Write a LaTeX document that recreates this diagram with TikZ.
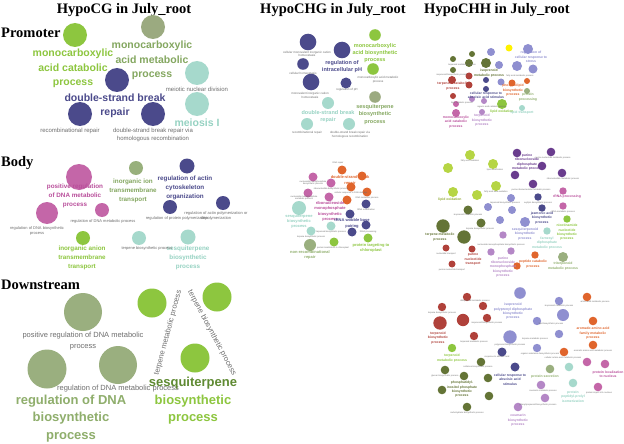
\documentclass[tikz,border=0pt]{standalone}
\usepackage{fontspec}
\setmainfont{Liberation Sans}
\newfontfamily\titlefont{Liberation Serif}
\pgfdeclarelayer{bg}
\pgfsetlayers{bg,main}
\definecolor{cgreen}{HTML}{8DC63F}
\definecolor{colive}{HTML}{9BAA80}
\definecolor{tolive}{HTML}{84A760}
\definecolor{navy}{HTML}{4B4A8B}
\definecolor{mint}{HTML}{A6D9CC}
\definecolor{tmint}{HTML}{96D2C2}
\definecolor{magenta}{HTML}{C466A8}
\definecolor{tmagenta}{HTML}{B94E9B}
\definecolor{bolive}{HTML}{98B07C}
\definecolor{sage}{HTML}{9AAF7F}
\definecolor{tsage}{HTML}{8FAE6C}
\definecolor{dgreen}{HTML}{5F8A32}
\definecolor{lime}{HTML}{B6D544}
\definecolor{purple}{HTML}{6A3D8E}
\definecolor{lav}{HTML}{8F8FD0}
\definecolor{dolive}{HTML}{647436}
\definecolor{dred}{HTML}{B0413A}
\definecolor{orange}{HTML}{E0652C}
\definecolor{lilac}{HTML}{B487C6}
\definecolor{yel}{HTML}{FFF200}
\definecolor{tgray}{HTML}{6E6E6E}
\tikzset{
  cnode/.style={circle,inner sep=0pt,draw=none},
  ttl/.style={font=\titlefont\bfseries\fontsize{14.5}{16}\selectfont,inner sep=0pt},
  lA/.style={align=center,inner sep=0pt,font=\bfseries\fontsize{10.5}{14.5}\selectfont},
  lB/.style={align=center,inner sep=0pt,font=\bfseries\fontsize{6.3}{8.7}\selectfont},
  lC/.style={align=center,inner sep=0pt,font=\bfseries\fontsize{13}{17.5}\selectfont},
  lD/.style={align=center,inner sep=0pt,font=\bfseries\fontsize{5.5}{7.3}\selectfont},
  lE/.style={align=center,inner sep=0pt,font=\bfseries\fontsize{4}{5.1}\selectfont},
  lF/.style={align=center,inner sep=0pt,font=\bfseries\fontsize{3.4}{4.4}\selectfont},
  gA/.style={align=center,inner sep=0pt,text=tgray,font=\fontsize{6}{8}\selectfont},
  gB/.style={align=center,inner sep=0pt,text=tgray,font=\fontsize{4}{5}\selectfont},
  gC/.style={align=center,inner sep=0pt,text=tgray,font=\fontsize{7.5}{11}\selectfont},
  gD/.style={align=center,inner sep=0pt,text=tgray,font=\fontsize{3}{3.6}\selectfont},
  gE/.style={align=center,inner sep=0pt,text=tgray,font=\fontsize{2.2}{2.7}\selectfont},
  eA/.style={draw=gray!75,line width=1.4pt},
  eB/.style={draw=gray!70,line width=0.9pt},
  eC/.style={draw=gray!65,line width=0.5pt},
  eT/.style={draw=gray!60,line width=0.3pt},
}
\newcommand\cn[5]{\node[cnode,fill=#5,minimum size={2*#4pt}] (#1) at (#2,#3) {};}
\begin{document}
\begin{tikzpicture}[x=1pt,y=-1pt]
\useasboundingbox[fill=white] (0,0) rectangle (624,444);
% titles and row labels
\node[ttl] (t1) at (124,10) {HypoCG in July\_root};
\node[ttl] (t2) at (333,10) {HypoCHG in July\_root};
\node[ttl] (t3) at (497,10) {HypoCHH in July\_root};
\node[ttl,anchor=west] (r1) at (1,33) {Promoter};
\node[ttl,anchor=west] (r2) at (1,163) {Body};
\node[ttl,anchor=west] (r3) at (1,285) {Downstream};

% ===== CG promoter
\cn{pg1}{75}{35}{12}{cgreen}
\cn{pg2}{153}{27}{12}{colive}
\cn{pn1}{117}{80}{12}{navy}
\cn{pn2}{80}{114}{12}{navy}
\cn{pn3}{153}{114}{12}{navy}
\cn{pm1}{197}{73}{12}{mint}
\cn{pm2}{197}{104}{12}{mint}
\node[lA,text=cgreen] (lpg1) at (73,68.5) {monocarboxylic\\acid catabolic\\process};
\node[lA,text=tolive] (lpg2) at (152,60.5) {monocarboxylic\\acid metabolic\\process};
\node[lA,text=navy] (lpn) at (115,106) {double-strand break\\repair};
\node[lA,text=tmint] (lpm) at (197,123) {meiosis I};
\node[gA] (gp1) at (197,89) {meiotic nuclear division};
\node[gA] (gp2) at (70,131) {recombinational repair};
\node[gA] (gp3) at (153,135) {double-strand break repair via\\homologous recombination};

% ===== CG body
\cn{bm1}{79}{177}{13}{magenta}
\cn{bm2}{47}{213}{11}{magenta}
\cn{bm3}{102}{210}{7}{magenta}
\cn{bo1}{136}{168}{7}{bolive}
\cn{bn1}{187}{166}{7.5}{navy}
\cn{bn2}{170}{207}{7}{navy}
\cn{bn3}{223}{203}{7}{navy}
\cn{bg1}{83}{238}{7}{cgreen}
\cn{bt1}{139}{238}{7}{mint}
\cn{bt2}{188}{237}{7.5}{mint}
\node[lB,text=tmagenta] (lbm) at (75,196) {positive regulation\\of DNA metabolic\\process};
\node[lB,text=tolive] (lbo) at (133,191) {inorganic ion\\transmembrane\\transport};
\node[lB,text=navy] (lbn) at (185,188) {regulation of actin\\cytoskeleton\\organization};
\node[lB,text=cgreen] (lbg) at (82,258) {inorganic anion\\transmembrane\\transport};
\node[lB,text=tmint] (lbt) at (188,258) {sesquiterpene\\biosynthetic\\process};
\node[gB] (gb1) at (103,221) {regulation of DNA metabolic process};
\node[gB] (gb2) at (37,230.5) {regulation of DNA biosynthetic\\process};
\node[gB] (gb3) at (177,218) {regulation of protein polymerization};
\node[gB] (gb4) at (216,216) {regulation of actin polymerization or\\depolymerization};
\node[gB] (gb5) at (147,248) {terpene biosynthetic process};

% ===== CG downstream
\cn{dg1}{83}{312}{19}{sage}
\cn{dg2}{47}{369}{19.5}{sage}
\cn{dg3}{118}{365}{19}{sage}
\cn{dl1}{152}{303}{14.5}{cgreen}
\cn{dl2}{217}{297}{14.5}{cgreen}
\cn{dl3}{195}{358}{14.5}{cgreen}
\node[gC] (gd1) at (83,341.5) {positive regulation of DNA metabolic\\process};
\node[gC] (gd2) at (118,389) {regulation of DNA metabolic process};
\node[gC,rotate=75] (gd3) at (168,333) {terpene metabolic process};
\node[gC,rotate=-62] (gd4) at (212,333) {terpene biosynthetic process};
\node[lC,text=tsage] (ldg) at (71,418.5) {regulation of DNA\\biosynthetic\\process};
\node[lC,text=dgreen] (ldl1) at (193,383) {sesquiterpene};
\node[lC,text=cgreen] (ldl2) at (193,409.5) {biosynthetic\\process};

% ===== CHG promoter
\cn{gpn1}{308}{42}{8.3}{navy}
\cn{gpn2}{342}{50}{8.3}{navy}
\cn{gpn3}{303}{64}{5.8}{navy}
\cn{gpn4}{311}{82}{8.3}{navy}
\cn{gpn5}{346}{83}{5.5}{navy}
\cn{gpg1}{375}{35}{5.8}{cgreen}
\cn{gpg2}{373}{69}{5.8}{cgreen}
\cn{gpo1}{375}{97}{5.8}{colive}
\cn{gpm1}{328}{103}{6}{mint}
\cn{gpm2}{307}{124}{6}{mint}
\cn{gpm3}{349}{124}{6}{mint}
\node[gD] (ggp1) at (307,54) {cellular monovalent inorganic cation\\homeostasis};
\node[gD] (ggp2) at (303,73) {cellular homeostasis};
\node[gD] (ggp3) at (310,95.5) {monovalent inorganic cation\\homeostasis};
\node[gD] (ggp4) at (347,90) {regulation of pH};
\node[gD] (ggp5) at (378,79.5) {monocarboxylic acid metabolic\\process};
\node[gD] (ggp6) at (307,133) {recombinational repair};
\node[gD] (ggp7) at (350,135) {double-strand break repair via\\homologous recombination};
\node[lD,text=navy] (lgpn) at (342,66.5) {regulation of\\intracellular pH};
\node[lD,text=cgreen] (lgpg) at (375,53) {monocarboxylic\\acid biosynthetic\\process};
\node[lD,text=tolive] (lgpo) at (375,114.5) {sesquiterpene\\biosynthetic\\process};
\node[lD,text=tmint] (lgpm) at (328,116.5) {double-strand break\\repair};

% ===== CHG body
\cn{gbo1}{342}{170}{4.5}{orange}
\cn{gbo2}{362}{176}{4.5}{orange}
\cn{gbo3}{351}{187}{4.5}{orange}
\cn{gbo4}{367}{192}{4.5}{orange}
\cn{gbo5}{347}{200}{4.5}{orange}
\cn{gbm1}{313}{177}{4.5}{magenta}
\cn{gbm2}{331}{183}{4.5}{magenta}
\cn{gbm3}{308}{193}{4.5}{magenta}
\cn{gbm4}{329}{197}{4.5}{magenta}
\cn{gbn1}{366}{204}{4.5}{navy}
\cn{gbn2}{350}{214}{4.5}{navy}
\cn{gbn3}{366}{225}{4.5}{navy}
\cn{gbn4}{352}{232}{4.5}{navy}
\cn{gbt1}{299}{208}{7}{mint}
\cn{gbt2}{311}{231}{4.5}{mint}
\cn{gbt3}{331}{226}{4.5}{mint}
\cn{gbs1}{310}{245}{6}{sage}
\cn{gbg1}{334}{242}{4.5}{cgreen}
\cn{gbg2}{368}{238}{4.5}{cgreen}
\node[gE] (ggb1) at (313,183) {nucleoside monophosphate\\biosynthetic process};
\node[gE] (ggb2) at (331,189) {ribonucleotide biosynthetic process};
\node[gE] (ggb3) at (304,198) {nucleoside monophosphate\\metabolic process};
\node[gE] (ggb4) at (338,163) {DNA repair};
\node[gE] (ggb5) at (351,193) {cellular response to DNA damage};
\node[gE] (ggb6) at (367,198) {DNA metabolic process};
\node[gE] (ggb7) at (366,210) {tRNA modification};
\node[gE] (ggb8) at (368,232) {tRNA processing};
\node[gE] (ggb9) at (331,232) {terpenoid biosynthetic process};
\node[gE] (ggb10) at (311,237) {terpene biosynthetic process};
\node[gE] (ggb11) at (333,248) {protein localization to chloroplast};
\node[lE,text=orange] (lgbo) at (350,180.5) {double-strand break\\repair};
\node[lE,text=tmagenta] (lgbm) at (330,211.5) {ribonucleoside\\monophosphate\\biosynthetic\\process};
\node[lE,text=navy] (lgbn) at (352,223.5) {tRNA wobble base\\pairing};
\node[lE,text=tmint] (lgbt) at (299,221.5) {sesquiterpene\\biosynthetic\\process};
\node[lE,text=tsage] (lgbs) at (310,255) {non-recombinational\\repair};
\node[lE,text=cgreen] (lgbg) at (371,248) {protein targeting to\\chloroplast};

% ===== CHH promoter
\cn{hp1}{472}{54}{3}{dolive}
\cn{hp2}{453}{59}{3}{dolive}
\cn{hp3}{469}{63}{4}{dolive}
\cn{hp4}{486}{63}{5}{dolive}
\cn{hp5}{453}{70}{3}{dolive}
\cn{hp6}{469}{76}{3.5}{dred}
\cn{hp7}{452}{80}{4}{dred}
\cn{hp8}{469}{85}{3.5}{dred}
\cn{hp9}{453}{96}{3}{dred}
\cn{hp10}{491}{52}{4}{lav}
\cn{hp11}{528}{49}{5}{lav}
\cn{hp12}{499}{65}{4}{lav}
\cn{hp13}{517}{66}{5}{lav}
\cn{hp14}{533}{69}{4.5}{lav}
\cn{hp15}{501}{82}{3.5}{lav}
\cn{hp16}{509}{48}{3.5}{yel}
\cn{hp17}{486}{80}{3}{navy}
\cn{hp18}{486}{89}{3}{navy}
\cn{hp19}{512}{83}{3.5}{orange}
\cn{hp20}{527}{81}{3}{orange}
\cn{hp21}{527}{91}{3}{sage}
\cn{hp22}{456}{104}{3}{magenta}
\cn{hp23}{456}{113}{4}{magenta}
\cn{hp24}{472}{99}{3}{lilac}
\cn{hp25}{484}{101}{3}{lilac}
\cn{hp26}{482}{112}{3}{lilac}
\cn{hp27}{502}{104}{5}{cgreen}
\cn{hp28}{522}{108}{3}{mint}
\node[gE] (ghp1) at (462,65) {terpenoid metabolic process};
\node[gE] (ghp2) at (452,75) {isoprenoid biosynthetic process};
\node[gE] (ghp4) at (520,76) {fatty acid metabolic process};
\node[gE] (ghp6) at (462,103) {lipid catabolic process};
\node[gE] (ghp7) at (492,107) {organic acid catabolic process};
\node[lF,text=dolive] (lhp1) at (489,73) {isoprenoid\\metabolic process};
\node[lF,text=dred] (lhp2) at (453,86) {terpenoid catabolic\\process};
\node[lF,text=navy] (lhp3) at (486,95) {cellular response to\\abscisic acid stimulus};
\node[lF,text=orange] (lhp4) at (513,90.5) {phospholipid\\biosynthetic\\process};
\node[lF,text=lav] (lhp5) at (531,57) {regulation of\\cellular response to\\stress};
\node[lF,text=tsage] (lhp6) at (528,97) {protein\\processing};
\node[lF,text=cgreen] (lhp7) at (502,112) {lipid oxidation};
\node[lF,text=tmint] (lhp8) at (522,113) {lipid transport};
\node[lF,text=tmagenta] (lhp9) at (456,122) {monocarboxylic\\acid catabolic\\process};
\node[lF,text=lilac] (lhp10) at (482,120.5) {terpenoid\\biosynthetic\\process};

% ===== CHH body
\cn{hb1}{470}{155}{5}{lime}
\cn{hb2}{493}{164}{5}{lime}
\cn{hb3}{448}{168}{5}{lime}
\cn{hb4}{496}{186}{5}{lime}
\cn{hb5}{453}{192}{5}{lime}
\cn{hb6}{477}{195}{5}{lime}
\cn{hb7}{517}{153}{4.3}{purple}
\cn{hb8}{551}{152}{4.3}{purple}
\cn{hb9}{542}{166}{4.3}{purple}
\cn{hb10}{515}{175}{4.3}{purple}
\cn{hb11}{562}{173}{4.3}{purple}
\cn{hb12}{533}{184}{4.3}{purple}
\cn{hb13}{563}{191}{3.7}{magenta}
\cn{hb14}{563}{206}{3.7}{magenta}
\cn{hb15}{538}{197}{3.7}{navy}
\cn{hb16}{542}{208}{3.7}{navy}
\cn{hb17}{511}{198}{4}{lav}
\cn{hb18}{488}{207}{4}{lav}
\cn{hb19}{512}{210}{4}{lav}
\cn{hb20}{500}{220}{4}{lav}
\cn{hb21}{525}{222}{5}{lav}
\cn{hb22}{468}{210}{4.5}{dolive}
\cn{hb23}{443}{226}{6.7}{dolive}
\cn{hb24}{481}{223}{4.5}{dolive}
\cn{hb25}{464}{237}{6.7}{dolive}
\cn{hb26}{567}{219}{3.7}{cgreen}
\cn{hb27}{547}{231}{3.7}{mint}
\cn{hb28}{503}{235}{3.7}{lilac}
\cn{hb29}{491}{252}{3.7}{lilac}
\cn{hb30}{511}{251}{3.7}{lilac}
\cn{hb31}{446}{248}{3.5}{dred}
\cn{hb32}{472}{249}{3.5}{dred}
\cn{hb33}{452}{264}{3.5}{dred}
\cn{hb34}{535}{255}{3.7}{orange}
\cn{hb35}{517}{266}{3.7}{orange}
\cn{hb36}{563}{257}{5}{sage}
\node[gE] (ghb1) at (470,161) {fatty acid oxidation};
\node[gE] (ghb2) at (495,170) {lipid modification};
\node[gE] (ghb3) at (496,192) {fatty acid beta-oxidation};
\node[gE] (ghb4) at (553,158) {purine nucleotide metabolic process};
\node[gE] (ghb5) at (563,179) {ribonucleotide metabolic process};
\node[gE] (ghb6) at (531,190) {purine ribonucleotide metabolic process};
\node[gE] (ghb7) at (563,212) {rRNA metabolic process};
\node[gE] (ghb8) at (538,203) {oxylipin biosynthetic process};
\node[gE] (ghb9) at (505,203) {terpenoid biosynthetic process};
\node[gE] (ghb10) at (480,229) {terpene biosynthetic process};
\node[gE] (ghb11) at (468,215) {isoprenoid metabolic process};
\node[gE] (ghb12) at (446,254) {nucleotide transport};
\node[gE] (ghb13) at (452,270) {purine nucleotide transport};
\node[gE] (ghb14) at (501,245) {nucleoside monophosphate biosynthetic process};
\node[lF,text=lime!80!black] (lhb1) at (450,200) {lipid oxidation};
\node[lF,text=purple] (lhb2) at (527,162) {purine\\ribonucleoside\\diphosphate\\metabolic process};
\node[lF,text=tmagenta] (lhb3) at (567,197) {rRNA processing};
\node[lF,text=navy] (lhb4) at (542,218) {jasmonic acid\\biosynthetic\\process};
\node[lF,text=lav] (lhb5) at (525,234) {sesquiterpenoid\\biosynthetic\\process};
\node[lF,text=dolive] (lhb6) at (440,237) {terpene metabolic\\process};
\node[lF,text=cgreen] (lhb7) at (567,232.5) {nicotinamide\\nucleotide\\biosynthetic\\process};
\node[lF,text=tmint] (lhb8) at (547,243) {farnesyl\\diphosphate\\metabolic process};
\node[lF,text=lilac] (lhb9) at (503,267) {purine\\ribonucleoside\\monophosphate\\biosynthetic\\process};
\node[lF,text=dred] (lhb10) at (473,259.5) {purine\\nucleotide\\transport};
\node[lF,text=orange] (lhb11) at (533,264) {peptide catabolic\\process};
\node[lF,text=tsage] (lhb12) at (563,266) {triterpenoid\\metabolic process};

% ===== CHH downstream
\cn{hd1}{467}{297}{4.2}{dred}
\cn{hd2}{442}{307}{4.2}{dred}
\cn{hd3}{483}{306}{4.2}{dred}
\cn{hd4}{487}{318}{4.2}{dred}
\cn{hd5}{440}{323}{6.7}{dred}
\cn{hd6}{463}{320}{6.2}{dred}
\cn{hd7}{474}{336}{4.2}{dred}
\cn{hd8}{452}{348}{4.2}{cgreen}
\cn{hd9}{520}{293}{5.8}{lav}
\cn{hd10}{559}{301}{4.2}{lav}
\cn{hd11}{563}{315}{6}{lav}
\cn{hd12}{537}{321}{4.2}{lav}
\cn{hd13}{559}{334}{4.2}{lav}
\cn{hd14}{510}{337}{6.7}{lav}
\cn{hd15}{537}{348}{4.2}{lav}
\cn{hd16}{587}{297}{4.3}{orange}
\cn{hd17}{593}{321}{4.3}{orange}
\cn{hd18}{593}{345}{4.3}{orange}
\cn{hd19}{564}{352}{4.3}{orange}
\cn{hd20}{502}{352}{4.5}{navy}
\cn{hd21}{515}{367}{4.5}{navy}
\cn{hd22}{481}{362}{4.3}{dolive}
\cn{hd23}{445}{370}{4.3}{dolive}
\cn{hd24}{464}{376}{4.3}{dolive}
\cn{hd25}{488}{378}{4.3}{dolive}
\cn{hd26}{442}{390}{4.3}{dolive}
\cn{hd27}{489}{396}{4.3}{dolive}
\cn{hd28}{467}{407}{4.3}{dolive}
\cn{hd29}{550}{369}{4.3}{sage}
\cn{hd30}{569}{367}{4.3}{mint}
\cn{hd31}{573}{383}{4.3}{mint}
\cn{hd32}{587}{362}{4.3}{magenta}
\cn{hd33}{605}{364}{4.3}{magenta}
\cn{hd34}{598}{387}{4.3}{magenta}
\cn{hd35}{541}{385}{4.3}{lilac}
\cn{hd36}{545}{398}{4.3}{lilac}
\cn{hd37}{518}{407}{4.3}{lilac}
\node[gE] (ghd1) at (475,301) {diterpenoid metabolic process};
\node[gE] (ghd2) at (442,313) {terpene biosynthetic process};
\node[gE] (ghd3) at (487,323) {isoprenoid biosynthetic process};
\node[gE] (ghd4) at (474,342) {terpenoid metabolic process};
\node[gE] (ghd5) at (559,306) {isoprenoid metabolic process};
\node[gE] (ghd6) at (551,324) {lipid biosynthetic process};
\node[gE] (ghd7) at (535,339) {terpene metabolic process};
\node[gE] (ghd8) at (510,345) {polyprenol biosynthetic process};
\node[gE] (ghd9) at (540,354) {organic substance biosynthetic process};
\node[gE] (ghd10) at (595,302) {amino acid metabolic process};
\node[gE] (ghd11) at (593,351) {aromatic amino acid metabolic process};
\node[gE] (ghd12) at (563,358) {cellular amino acid metabolic process};
\node[gE] (ghd13) at (497,357) {response to abscisic acid};
\node[gE] (ghd14) at (478,367) {cellulose biosynthetic process};
\node[gE] (ghd15) at (445,376) {glucan biosynthetic process};
\node[gE] (ghd17) at (467,413) {carbohydrate biosynthetic process};
\node[gE] (ghd19) at (599,393) {protein import into nucleus};
\node[gE] (ghd20) at (543,391) {coumarin metabolic process};
\node[gE] (ghd21) at (538,405) {phenylpropanoid biosynthetic process};
\node[lF,text=dred] (lhd1) at (438,338) {terpenoid\\biosynthetic\\process};
\node[lF,text=cgreen] (lhd2) at (452,358) {terpenoid\\metabolic process};
\node[lF,text=lav] (lhd3) at (513,311.5) {isoprenoid\\polyprenyl diphosphate\\biosynthetic\\process};
\node[lF,text=orange] (lhd4) at (593,333.5) {aromatic amino acid\\family metabolic\\process};
\node[lF,text=navy] (lhd5) at (510,379.5) {cellular response to\\abscisic acid\\stimulus};
\node[lF,text=dolive] (lhd6) at (462,389.5) {phosphatidyl-\\inositol phosphate\\biosynthetic\\process};
\node[lF,text=tsage] (lhd7) at (545,377) {protein secretion};
\node[lF,text=tmint] (lhd8) at (573,396.5) {protein\\peptidyl-prolyl\\isomerization};
\node[lF,text=tmagenta] (lhd9) at (608,374.5) {protein localization\\to nucleus};
\node[lF,text=lilac] (lhd10) at (518,420.5) {coumarin\\biosynthetic\\process};

% ===== edges
\begin{pgfonlayer}{bg}
\draw[eA] (pn1)--(pn2) (pn1)--(pn3) (pn2)--(pn3) (pm1)--(pm2);
\draw[eB] (bm1)--(bm2) (bm1)--(bm3) (bm2)--(bm3) (bn1)--(bn3) (bn2)--(bn3) (bt1)--(bt2);
\draw[eB] (dg1)--(dg2) (dg1)--(dg3) (dl1)--(dl2) (dl1)--(dl3) (dl2)--(dl3);
\foreach \a/\b in {gpn1/gpn2,gpn1/gpn3,gpn1/gpn5,gpn3/gpn2,gpn3/gpn4,gpn4/gpn5,gpn2/gpn5,gpn4/gpn2,gpn3/gpn5,gpg1/gpg2,gpm1/gpm2,gpm1/gpm3,gpm2/gpm3}
  \draw[eC] (\a)--(\b);
\foreach \a/\b in {gbo1/gbo2,gbo1/gbo3,gbo2/gbo3,gbo2/gbo4,gbo3/gbo4,gbo3/gbo5,gbo4/gbo5,gbo1/gbo5,gbm1/gbm2,gbm1/gbm3,gbm2/gbm4,gbm3/gbm4,gbm2/gbo1,gbm2/gbo3,gbm4/gbo5,gbn1/gbn2,gbn1/gbn3,gbn2/gbn3,gbn2/gbn4,gbn3/gbn4,gbn1/gbo4,gbn2/gbo5,gbt1/gbt3,gbt1/gbt2,gbt2/gbt3,gbt1/gbm3,gbg1/gbg2,gbn4/gbg2}
  \draw[eT] (\a)--(\b);
\foreach \a/\b in {hp1/hp2,hp1/hp3,hp1/hp4,hp2/hp3,hp2/hp5,hp3/hp4,hp3/hp5,hp4/hp5,hp1/hp5,hp2/hp4,hp3/hp6,hp4/hp10,hp4/hp12,hp4/hp13,hp10/hp16,hp10/hp12,hp10/hp13,hp10/hp11,hp16/hp11,hp16/hp13,hp16/hp12,hp11/hp13,hp11/hp14,hp12/hp13,hp13/hp14,hp12/hp15,hp13/hp15,hp14/hp15,hp15/hp19,hp19/hp20,hp6/hp7,hp6/hp8,hp7/hp8,hp8/hp9,hp6/hp4,hp5/hp7,hp17/hp18,hp24/hp25,hp25/hp26,hp24/hp22,hp22/hp23,hp9/hp22,hp4/hp17,hp12/hp17}
  \draw[eT] (\a)--(\b);
\foreach \a/\b in {hb1/hb2,hb1/hb3,hb1/hb4,hb1/hb5,hb1/hb6,hb2/hb3,hb2/hb4,hb2/hb5,hb2/hb6,hb3/hb4,hb3/hb5,hb3/hb6,hb4/hb5,hb4/hb6,hb5/hb6,hb7/hb8,hb7/hb9,hb7/hb10,hb8/hb9,hb8/hb11,hb9/hb10,hb9/hb11,hb9/hb12,hb10/hb12,hb11/hb12,hb7/hb12,hb2/hb7,hb4/hb10,hb13/hb14,hb15/hb16,hb17/hb18,hb17/hb19,hb18/hb19,hb18/hb20,hb19/hb20,hb19/hb21,hb20/hb21,hb17/hb21,hb12/hb17,hb22/hb23,hb22/hb24,hb22/hb25,hb23/hb25,hb24/hb25,hb23/hb24,hb6/hb18,hb28/hb29,hb28/hb30,hb29/hb30,hb31/hb32,hb31/hb33,hb32/hb33,hb34/hb35,hb22/hb18}
  \draw[eT] (\a)--(\b);
\foreach \a/\b in {hd1/hd2,hd1/hd3,hd1/hd6,hd2/hd5,hd2/hd6,hd3/hd6,hd4/hd6,hd5/hd6,hd6/hd7,hd2/hd4,hd3/hd4,hd5/hd7,hd9/hd10,hd9/hd12,hd9/hd14,hd10/hd11,hd10/hd12,hd11/hd12,hd11/hd13,hd11/hd15,hd12/hd13,hd12/hd14,hd12/hd15,hd13/hd14,hd13/hd15,hd14/hd15,hd9/hd11,hd16/hd17,hd18/hd19,hd20/hd21,hd14/hd20,hd22/hd23,hd22/hd24,hd22/hd25,hd23/hd24,hd23/hd26,hd24/hd25,hd24/hd26,hd24/hd27,hd25/hd27,hd25/hd28,hd26/hd28,hd27/hd28,hd22/hd27,hd25/hd26,hd30/hd31,hd32/hd33,hd32/hd34,hd35/hd36,hd35/hd37,hd36/hd37,hd20/hd22}
  \draw[eT] (\a)--(\b);
\end{pgfonlayer}
\end{tikzpicture}
\end{document}
